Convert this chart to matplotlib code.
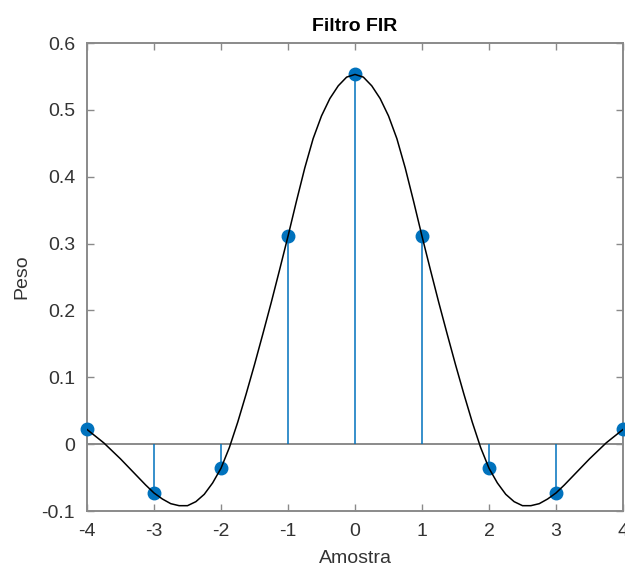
import matplotlib
matplotlib.use("Agg")
import matplotlib.pyplot as plt

# FIR taps (stem plot)
amostras = [-4, -3, -2, -1, 0, 1, 2, 3, 4]
pesos = [0.022, -0.073, -0.036, 0.311, 0.553, 0.311, -0.036, -0.073, 0.022]

# continuous response every 0.125
curva_x = [-4.0, -3.875, -3.75, -3.625, -3.5, -3.375, -3.25, -3.125,
           -3.0, -2.875, -2.75, -2.625, -2.5, -2.375, -2.25, -2.125,
           -2.0, -1.875, -1.75, -1.625, -1.5, -1.375, -1.25, -1.125,
           -1.0, -0.875, -0.75, -0.625, -0.5, -0.375, -0.25, -0.125,
           0.0,
           0.125, 0.25, 0.375, 0.5, 0.625, 0.75, 0.875, 1.0,
           1.125, 1.25, 1.375, 1.5, 1.625, 1.75, 1.875, 2.0,
           2.125, 2.25, 2.375, 2.5, 2.625, 2.75, 2.875, 3.0,
           3.125, 3.25, 3.375, 3.5, 3.625, 3.75, 3.875, 4.0]
curva_y = [0.022, 0.012, 0.002, -0.010, -0.022, -0.035, -0.048, -0.061,
           -0.073, -0.082, -0.089, -0.092, -0.092, -0.086, -0.075, -0.058,
           -0.036, -0.005, 0.033, 0.075, 0.119, 0.165, 0.212, 0.261,
           0.311, 0.363, 0.413, 0.457, 0.491, 0.517, 0.536, 0.549,
           0.553,
           0.549, 0.536, 0.517, 0.491, 0.457, 0.413, 0.363, 0.311,
           0.261, 0.212, 0.165, 0.119, 0.075, 0.033, -0.005, -0.036,
           -0.058, -0.075, -0.086, -0.092, -0.092, -0.089, -0.082, -0.073,
           -0.061, -0.048, -0.035, -0.022, -0.010, 0.002, 0.012, 0.022]

x_ticks = [-4, -3, -2, -1, 0, 1, 2, 3, 4]
y_ticks = [-0.1, 0, 0.1, 0.2, 0.3, 0.4, 0.5, 0.6]
y_tick_labels = ["-0.1", "0", "0.1", "0.2", "0.3", "0.4", "0.5", "0.6"]

AZUL = "#0072BD"
CINZA = "#8a8a8a"
TEXTO = "#333333"

plt.rcParams["font.family"] = ["Liberation Sans", "DejaVu Sans"]
plt.rcParams["axes.unicode_minus"] = False

fig = plt.figure(figsize=(6.25, 5.76), dpi=100)
ax = fig.add_axes([0.1392, 0.1128, 0.8576, 0.8125])

ax.axhline(0, color=CINZA, linewidth=1.4, zorder=1)
markers, stems, base = ax.stem(amostras, pesos, basefmt=" ")
plt.setp(stems, color=AZUL, linewidth=1.1)
plt.setp(markers, color=AZUL, markersize=9, clip_on=False, zorder=3)
ax.plot(curva_x, curva_y, color="black", linewidth=1.1, zorder=4)

ax.set_xlim(-4, 4)
ax.set_ylim(-0.1, 0.6)
ax.set_xticks(x_ticks)
ax.set_xticklabels([str(v) for v in x_ticks])
ax.set_yticks(y_ticks)
ax.set_yticklabels(y_tick_labels)

for s in ax.spines.values():
    s.set_color(CINZA)
    s.set_linewidth(1.4)
ax.tick_params(direction="in", length=5, width=1, color=CINZA, labelcolor=TEXTO,
               labelsize=14, pad=8.5, top=True, right=True)

ax.set_title("Filtro FIR", fontsize=14, fontweight="bold", color="black", pad=9)
ax.set_xlabel("Amostra", fontsize=14, color=TEXTO, labelpad=7)
ax.set_ylabel("Peso", fontsize=14, color=TEXTO, labelpad=8)

fig.savefig("out.png", dpi=100)
